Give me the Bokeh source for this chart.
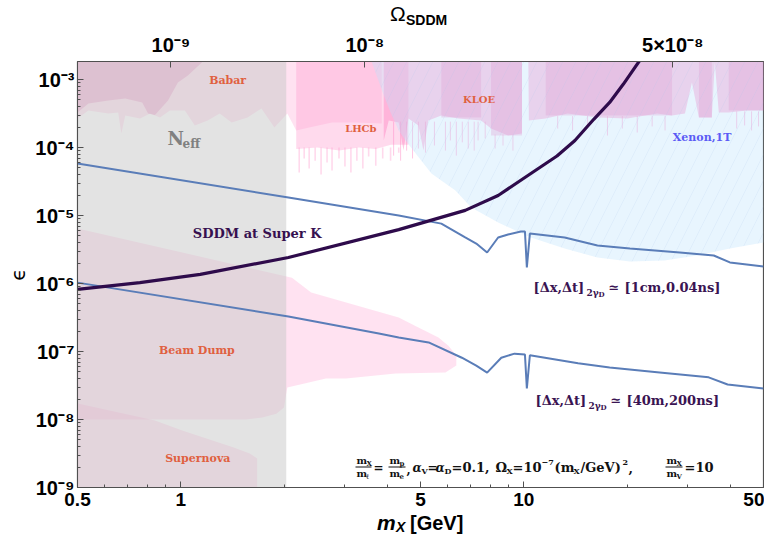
import math
from bokeh.plotting import figure
from bokeh.layouts import column
from bokeh.models import Range1d, LogAxis, FixedTicker, Label, BoxAnnotation, ColumnDataSource, Div
from bokeh.core.properties import value
from bokeh.embed import file_html
from bokeh.resources import INLINE

# ---------------- axes / ticks ----------------
x_major = [0.5, 1, 5, 10, 50]
x_major_labels = ["0.5", "1", "5", "10", "50"]
x_minor = [0.6, 0.7, 0.8, 0.9, 2, 3, 4, 6, 7, 8, 9, 20, 30, 40]
y_major = [1e-9, 1e-8, 1e-7, 1e-6, 1e-5, 1e-4, 1e-3]
y_major_labels = ["10⁻⁹", "10⁻⁸", "10⁻⁷", "10⁻⁶", "10⁻⁵", "10⁻⁴", "10⁻³"]
y_minor = [k * 10.0 ** e for e in range(-9, -2) for k in range(2, 10)]
omega_tick_mass = [0.936, 3.44, 27.2]
omega_tick_labels = ["10⁻⁹", "10⁻⁸", "5×10⁻⁸"]

# ---------------- curves ----------------
sk_m = [0.5, 0.76, 1.14, 2.06, 4.32, 6.75, 8.42, 10.49, 12.5, 14.1, 16.0, 17.8, 19.5, 21.7, 23.0]
sk_eps = [8.2e-7, 1.03e-6, 1.36e-6, 2.41e-6, 6.2e-6, 1.19e-5, 1.97e-5, 4.15e-5, 7.5e-5, 1.27e-4, 2.6e-4, 4.6e-4,
          8.5e-4, 1.85e-3, 3.0e-3]

ub_m = [0.5, 2.06, 4.32, 5.75, 6.75, 7.27, 7.82, 8.42, 9.0, 9.81, 10.08, 10.21, 10.42, 13.16, 16.4, 20.4, 28.5, 35.8, 39.9, 50]
ub_eps = [5.82e-5, 1.84e-5, 1.0e-5, 7.6e-6, 4.75e-6, 3.87e-6, 2.86e-6, 4.75e-6, 5.26e-6, 5.82e-6, 5.82e-6, 1.72e-6,
          5.43e-6, 4.75e-6, 3.62e-6, 3.27e-6, 2.86e-6, 2.58e-6, 2.04e-6, 1.78e-6]

lb_m = [0.5, 2.06, 3.78, 4.32, 5.28, 6.60, 7.27, 7.82, 8.6, 9.4, 10.08, 10.21, 10.42, 14.4, 17.8, 24.9, 34.6, 39.3, 50]
lb_eps = [1.03e-6, 3.27e-7, 1.84e-7, 1.61e-7, 1.36e-7, 8.1e-8, 6.2e-8, 4.9e-8, 8.1e-8, 9.3e-8, 9.0e-8, 2.86e-8,
          8.8e-8, 6.7e-8, 5.8e-8, 4.9e-8, 4.17e-8, 3.27e-8, 2.86e-8]

# ---------------- excluded regions ----------------
TOP, BOT = 1e-2, 1e-10

babar_m = [0.5, 0.538, 0.615, 0.657, 0.671, 0.689, 0.761, 0.814, 0.870, 0.930, 1.028, 1.099, 1.198, 1.299, 1.407,
           1.566, 1.719, 1.875, 2.045, 2.171, 2.368, 2.761, 3.240, 3.855]
babar_eps = [2.67e-4, 3.5e-4, 3.16e-4, 3.27e-4, 1.61e-4, 2.96e-4, 2.67e-4, 3.16e-4, 2.76e-4, 3.5e-4, 3.5e-4, 2.11e-4,
             2.49e-4, 3.16e-4, 2.33e-4, 2.76e-4, 3.75e-4, 1.97e-4, 3.16e-4, 1.78e-4, 1.97e-4, 2.33e-4, 2.33e-4,
             2.25e-4]

babar2_m = [0.5, 0.538, 0.615, 0.689, 0.772, 0.803, 0.841, 0.918, 0.981, 1.049, 1.152, 1.25]
babar2_eps = [3.27e-4, 4.44e-4, 4.9e-4, 5.26e-4, 4.6e-4, 3.16e-4, 3.0e-4, 4.9e-4, 9.0e-4, 1.15e-3, 1.78e-3, 4e-3]

lhcb_m = [2.171, 2.5, 2.9, 3.3, 3.7, 4.1, 4.61]
lhcb_eps = [9.5e-5, 1.0e-4, 9.0e-5, 1.0e-4, 9.5e-5, 1.1e-4, 1.1e-4]
lhcb_spike_m = [2.215, 2.29, 2.368, 2.465, 2.565, 2.670, 2.761, 2.893, 3.011, 3.134, 3.262, 3.395, 3.53, 3.703,
                3.880, 4.09, 4.32]
lhcb_spike_tip = [4.28e-5, 6.9e-5, 4.9e-5, 6.4e-5, 4.0e-5, 6.0e-5, 4.6e-5, 6.9e-5, 5.26e-5, 4.28e-5, 6.4e-5,
                  4.9e-5, 7.4e-5, 5.4e-5, 6.9e-5, 6.4e-5, 8.4e-5]

kloe_m = [3.906, 4.04, 4.32, 4.46, 4.61, 4.93, 5.10, 5.27, 5.75, 6.44, 7.51, 8.03, 9.00, 9.88, 9.89, 10.28, 10.35,
          11.59, 13.43, 14.84, 16.40, 20.04, 24.48, 27.06, 29.51, 30.92, 32.41, 35.34, 36.06, 37.03, 39.59, 44.63, 50]
kloe_eps = [1.27e-4, 2.49e-4, 2.33e-4, 9.0e-5, 2.67e-4, 2.11e-4, 9.0e-5, 2.49e-4, 2.96e-4, 2.67e-4, 2.49e-4, 1.90e-4,
            1.50e-4, 1.61e-4, 1e-2, 1e-2, 2.49e-4, 2.67e-4, 3.16e-4, 2.96e-4, 2.76e-4, 2.67e-4, 3.16e-4, 2.96e-4,
            3.16e-4, 9.0e-4, 2.76e-4, 2.76e-4, 1.78e-3, 3.27e-4, 3.27e-4, 3.5e-4, 3.5e-4]
kloe_band_lo = [5.75, 8.03, 11.59, 32.41, 39.59]
kloe_band_hi = [7.51, 9.88, 27.06, 35.34, 50]
kloe_band_bottom = [2.76e-4, 1.50e-4, 2.96e-4, 2.76e-4, 3.5e-4]
kloe_spike_m = [4.175, 4.375, 4.555, 4.740, 4.93, 5.17, 5.49, 5.91, 6.11, 6.36, 6.62, 6.89, 7.17, 7.36, 7.72,
                8.25, 8.70, 9.30, 12.56, 13.88, 15.35, 17.54, 19.38, 21.42, 23.68, 25.82, 41.76, 44.05, 46.15, 48.36]
kloe_spike_top = [2.4e-4] * 15 + [1.55e-4] * 3 + [2.9e-4] * 8 + [3.4e-4] * 4
kloe_spike_tip = [7.6e-5, 6.4e-5, 9.0e-5, 6.9e-5, 9.66e-5, 8.4e-5, 1.07e-4, 9.0e-5, 1.27e-4, 7.6e-5, 1.19e-4,
                  9.66e-5, 9.0e-5, 1.27e-4, 1.36e-4, 9.66e-5, 1.07e-4, 9.0e-5, 1.90e-4, 1.78e-4, 2.11e-4, 1.50e-4,
                  1.90e-4, 1.66e-4, 2.04e-4, 1.78e-4, 1.90e-4, 2.11e-4, 1.78e-4, 2.04e-4]

xenon_m = [3.55, 3.60, 3.91, 4.09, 4.32, 4.52, 5.38, 6.32, 7.03, 8.42, 10.49, 13.16, 16.4, 20.4, 25.7, 32.0, 39.9, 50, 50]
xenon_eps = [1e-2, 1.84e-3, 5.8e-4, 3.27e-4, 1.78e-4, 1.27e-4, 4.15e-5, 2.33e-5, 1.31e-5, 7.9e-6, 4.75e-6, 3.27e-6,
             2.41e-6, 2.11e-6, 2.18e-6, 2.58e-6, 3.27e-6, 4.0e-6, 1e-2]

bd_m = [0.5, 2.11, 2.40, 4.32, 4.93, 5.64, 6.03, 6.36, 6.36, 5.91, 4.23, 3.03, 2.65, 2.045, 2.03, 2.00, 1.90, 1.73,
        1.55, 0.5]
bd_eps = [6.44e-6, 1.22e-6, 7.4e-7, 3.16e-7, 2.25e-7, 1.61e-7, 1.22e-7, 8.7e-8, 6.2e-8, 4.91e-8, 4.74e-8, 4.0e-8,
          4.0e-8, 2.96e-8, 2.41e-8, 1.5e-8, 1.22e-8, 1.07e-8, 1.0e-8, 1.0e-8]

sn_m = [0.5, 0.841, 1.01, 1.42, 1.59, 1.67, 1.67, 0.5]
sn_eps = [1.72e-8, 9.7e-9, 6.9e-9, 3.9e-9, 3.16e-9, 2.67e-9, 1e-10, 1e-10]

neff_lo, neff_hi = 0.5, 2.03

region_names = ["Babar", "LHCb", "KLOE", "Beam Dump", "Supernova", "Xenon,1T", "SDDM at Super K"]
region_label_m = [1.37, 3.35, 7.41, 1.114, 1.121, 33.1, 1.67]
region_label_eps = [9.7e-4, 1.9e-4, 5.08e-4, 1.04e-7, 2.67e-9, 1.4e-4, 5.43e-6]

# ---------------- figure ----------------
RED = "#e0603f"
label_colors = [RED, RED, RED, RED, RED, "#5b5bf5", "#36104f"]
label_sizes = ["11px", "10px", "10px", "11px", "11px", "11px", "13px"]

TOPDIV_H, BOTDIV_H = 28, 16
P_H = 531 - TOPDIV_H - BOTDIV_H
FRAME_TOP, FRAME_BOT = 61, 487

p = figure(width=764, height=P_H, x_axis_type="log", y_axis_type="log",
           x_range=Range1d(0.5, 50), y_range=Range1d(1e-9, 1.84e-3),
           output_backend="svg", toolbar_location=None,
           min_border_left=77, min_border_right=1,
           min_border_top=FRAME_TOP - TOPDIV_H, min_border_bottom=TOPDIV_H + P_H - FRAME_BOT)
p.xgrid.visible = False
p.ygrid.visible = False
p.outline_line_color = "#505050"
p.outline_line_width = 1.2

PINK = "#ff9fcf"
p.patch(bd_m, bd_eps, fill_color=PINK, fill_alpha=0.3, line_color=None)
p.patch(sn_m, sn_eps, fill_color=PINK, fill_alpha=0.3, line_color=None)
p.patch([babar_m[0]] + babar_m + [babar_m[-1]], [TOP] + babar_eps + [TOP], fill_color=PINK, fill_alpha=0.3, line_color=None)
p.patch([babar2_m[0]] + babar2_m + [babar2_m[-1]], [TOP] + babar2_eps + [TOP], fill_color="#e080b8", fill_alpha=0.4, line_color=None)
p.patch([lhcb_m[0]] + lhcb_m + [lhcb_m[-1]], [TOP] + lhcb_eps + [TOP], fill_color=PINK, fill_alpha=0.38, line_color=None)
p.segment(x0=lhcb_spike_m, y0=[1.0e-4] * len(lhcb_spike_m), x1=lhcb_spike_m, y1=lhcb_spike_tip,
          line_color=PINK, line_alpha=0.4, line_width=1.6)
p.patch([kloe_m[0]] + kloe_m + [kloe_m[-1]], [TOP] + kloe_eps + [TOP], fill_color="#ff80c0", fill_alpha=0.42, line_color=None)
p.quad(left=kloe_band_lo, right=kloe_band_hi, bottom=kloe_band_bottom, top=[TOP] * len(kloe_band_lo),
       fill_color="#f070b8", fill_alpha=0.3, line_color=None)
p.segment(x0=kloe_spike_m, y0=kloe_spike_top, x1=kloe_spike_m, y1=kloe_spike_tip,
          line_color="#ff80c0", line_alpha=0.45, line_width=1)
p.patch(xenon_m, xenon_eps, fill_color="#bde2fc", fill_alpha=0.35, line_color=None,
        hatch_pattern="/", hatch_color="#a8c4ec", hatch_alpha=0.3, hatch_scale=26, hatch_weight=0.5)
p.quad(left=[neff_lo], right=[neff_hi], bottom=[BOT], top=[TOP], fill_color="#c8c8c8", fill_alpha=0.5, line_color=None)

p.line(ub_m, ub_eps, line_color="#5a7db8", line_width=2)
p.line(lb_m, lb_eps, line_color="#5a7db8", line_width=2)
p.line(sk_m, sk_eps, line_color="#2e0b4b", line_width=3.2, line_join="round")

src = ColumnDataSource(dict(x=region_label_m, y=region_label_eps, text=region_names, color=label_colors, size=label_sizes))
p.text(x="x", y="y", text="text", text_color="color", text_font_size="size", text_font=value("DejaVu Serif"),
       text_font_style="bold", text_align="center", text_baseline="middle", source=src)

# ---------------- axes ----------------
AX = "#505050"
TICKFONT = "Liberation Sans"
xa = p.xaxis[0]
xa.ticker = FixedTicker(ticks=x_major, minor_ticks=x_minor)
xa.major_label_overrides = dict(zip(x_major, x_major_labels))
ya = p.yaxis[0]
ya.ticker = FixedTicker(ticks=y_major, minor_ticks=y_minor)
ya.major_label_overrides = dict(zip(y_major, y_major_labels))
ya.axis_label = "ϵ"
ya.axis_label_text_font = "DejaVu Sans"
ya.axis_label_text_font_style = "normal"
ya.axis_label_text_font_size = "20px"
ya.axis_label_text_color = "black"
ya.axis_label_standoff = 2
top = LogAxis(ticker=FixedTicker(ticks=omega_tick_mass, minor_ticks=[]),
              major_label_overrides=dict(zip(omega_tick_mass, omega_tick_labels)))
p.add_layout(top, "above")
for ax, size, stand in ((xa, "19px", 5), (ya, "20px", 3), (top, "20px", 6)):
    ax.axis_line_color = AX
    ax.major_tick_line_color = AX
    ax.minor_tick_line_color = AX
    ax.major_tick_in = 6
    ax.major_tick_out = 0
    ax.minor_tick_in = 3
    ax.minor_tick_out = 0
    ax.major_label_text_font = TICKFONT
    ax.major_label_text_font_style = "bold"
    ax.major_label_text_font_size = size
    ax.major_label_text_color = "black"
    ax.major_label_standoff = stand

# ---------------- texts placed inside the frame ----------------
FL, FB = 77, FRAME_BOT


def put(px, py, text, size, font="DejaVu Serif", style="bold", color="#111111"):
    p.add_layout(Label(x=px - FL, y=FB - py, x_units="screen", y_units="screen", text=text,
                       text_font=font, text_font_size=f"{size}px", text_font_style=style,
                       text_color=color, text_align="left", text_baseline="middle"))


def bar(px1, px2, py):
    p.add_layout(BoxAnnotation(left=px1 - FL, right=px2 - FL, bottom=FB - py - 0.6, top=FB - py + 0.6,
                               left_units="screen", right_units="screen", bottom_units="screen",
                               top_units="screen", fill_color="#111111", fill_alpha=1.0, line_color=None))


# N_eff
put(167, 138, "N", 18, color="#808080")
put(182, 143, "eff", 12, color="#808080")

# decay length labels
PUR = "#3a1452"
for py, x0, txt in ((287, 533, "[1cm,0.04ns]"), (400, 535, "[40m,200ns]")):
    put(x0, py, "[Δx,Δt]", 13, color=PUR)
    put(x0 + 53, py + 5, "2γ", 9, color=PUR)
    put(x0 + 65, py + 7, "D", 7, color=PUR)
    put(x0 + 75, py, "≃", 13, color=PUR)
    put(x0 + 91, py, txt, 13, color=PUR)

# parameter line
put(356, 460, "m", 10); put(366, 462.5, "X", 7)
bar(355, 371, 466.5)
put(356, 473, "m", 10); put(366, 475.5, "ℓ", 7)
put(373, 467, "=", 12)
put(389, 460, "m", 10); put(399, 462.5, "p", 7)
bar(388, 405, 466.5)
put(389, 473, "m", 10); put(399, 475.5, "e", 7)
put(406, 468, ",", 12)
put(412, 467, "α", 12, style="bold italic"); put(421, 470, "V", 8)
put(427, 467, "=", 12)
put(435, 467, "α", 12, style="bold italic"); put(444, 470, "D", 8)
put(451, 467, "=0.1,", 13)
put(495, 467, "Ω", 13); put(506, 470, "X", 8)
put(512, 467, "=10", 13); put(541, 462, "−7", 8)
put(554, 467, "(m", 13); put(573, 470, "X", 8)
put(580, 467, "/GeV)", 13); put(622, 462, "2", 8)
put(628, 467, ",", 13)
put(666, 460, "m", 10); put(676, 462.5, "X", 7)
bar(665, 682, 466.5)
put(666, 473, "m", 10); put(676, 475.5, "V", 7)
put(684, 467, "=10", 13)

# ---------------- axis titles outside the frame (HTML text) ----------------
top_div = Div(width=764, height=TOPDIV_H, margin=(0, 0, 0, 0), text=(
    '<div style="position:relative;width:764px;height:28px;font-family:\'Liberation Sans\';color:black;white-space:nowrap;">'
    '<span style="position:absolute;left:390px;top:3px;font-size:21px;line-height:22px;">Ω</span>'
    '<span style="position:absolute;left:406px;top:12px;font-size:14px;font-weight:bold;line-height:16px;">SDDM</span>'
    '</div>'))
bot_div = Div(width=764, height=BOTDIV_H, margin=(0, 0, 0, 0), text=(
    '<div style="position:relative;width:764px;height:16px;font-family:\'Liberation Sans\';font-weight:bold;color:black;white-space:nowrap;">'
    '<span style="position:absolute;left:377px;top:0px;font-size:21px;line-height:16px;font-style:italic;">m</span>'
    '<span style="position:absolute;left:396px;top:4px;font-size:14px;line-height:16px;font-style:italic;">X</span>'
    '<span style="position:absolute;left:410px;top:0px;font-size:20px;line-height:16px;">[GeV]</span>'
    '</div>'))

layout = column(top_div, p, bot_div, spacing=0)
open("out.html", "w").write(file_html(layout, INLINE))
